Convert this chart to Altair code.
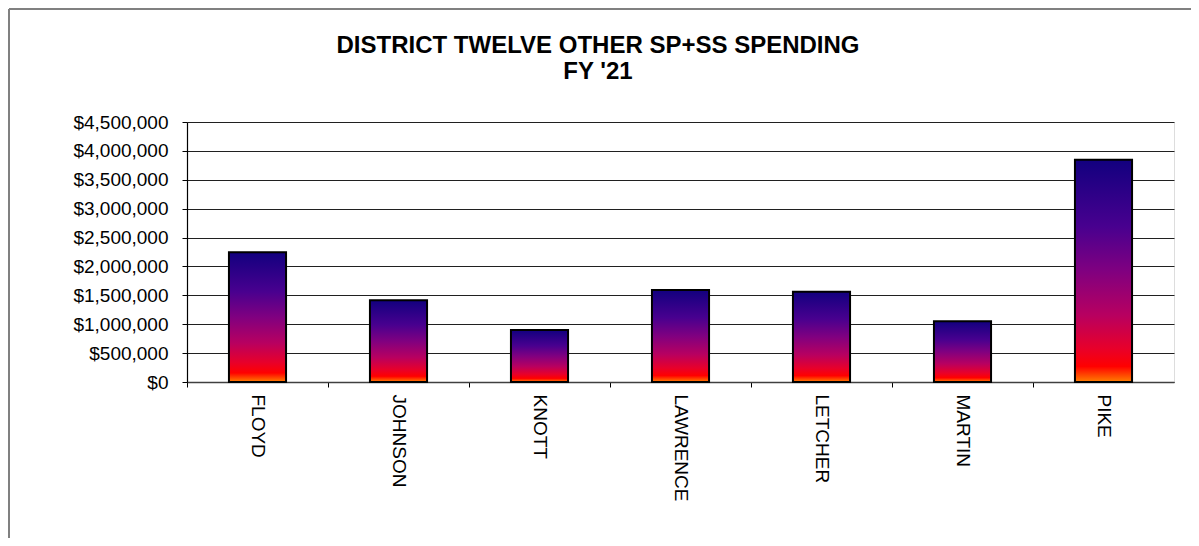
import altair as alt
import pandas as pd

counties = ["FLOYD", "JOHNSON", "KNOTT", "LAWRENCE", "LETCHER", "MARTIN", "PIKE"]
spending = [2245000, 1414000, 900000, 1592000, 1563000, 1050000, 3848000]
y_ticks = [0, 500000, 1000000, 1500000, 2000000, 2500000, 3000000, 3500000, 4000000, 4500000]
title_lines = ["DISTRICT TWELVE OTHER SP+SS SPENDING", "FY '21"]

df = pd.DataFrame({"county": counties, "spending": spending})

FONT = "Liberation Sans"

grad = alt.LinearGradient(
    gradient="linear",
    x1=0, y1=0, x2=0, y2=1,
    stops=[
        alt.GradientStop(offset=0.0, color="#12007f"),
        alt.GradientStop(offset=0.3, color="#48008f"),
        alt.GradientStop(offset=0.5, color="#800080"),
        alt.GradientStop(offset=0.7, color="#b80060"),
        alt.GradientStop(offset=0.85, color="#e8002a"),
        alt.GradientStop(offset=0.93, color="#ff0000"),
        alt.GradientStop(offset=1.0, color="#ff8000"),
    ],
)

bars = alt.Chart(df).mark_bar(
    color=grad, stroke="black", strokeWidth=2, width=alt.RelativeBandSize(0.405)
).encode(
    x=alt.X("county:N", sort=counties, title=None,
            scale=alt.Scale(paddingInner=0, paddingOuter=0),
            axis=alt.Axis(labelAngle=90, labelAlign="left", labelBaseline="middle",
                          labelFontSize=19, labelFont=FONT, labelColor="black",
                          labelPadding=7, tickSize=5, tickColor="black",
                          bandPosition=0, domainColor="#404040", domainWidth=1.5,
                          grid=False)),
    y=alt.Y("spending:Q", title=None,
            scale=alt.Scale(domain=[0, 4500000], nice=False),
            axis=alt.Axis(values=y_ticks, format="$,.0f", labelFontSize=19,
                          labelFont=FONT, labelColor="black", labelPadding=14,
                          tickSize=5, tickColor="black", domainColor="black",
                          domainWidth=1.2, grid=True, gridColor="#202020",
                          gridWidth=1)),
)

title_df = pd.DataFrame({"line": title_lines, "yy": [-76, -50]})
title = alt.Chart(title_df).mark_text(
    font=FONT, fontSize=24, fontWeight="bold", color="black",
    align="center", baseline="middle"
).encode(
    text="line:N",
    x=alt.value(411),
    y=alt.Y("yy:Q", scale=None),
)

frame_left = alt.Chart(df).mark_rule(color="#808080", strokeWidth=2).encode(
    x=alt.value(-178), y=alt.value(-113), y2=alt.value(1000)
)
frame_top = alt.Chart(df).mark_rule(color="#808080", strokeWidth=2).encode(
    x=alt.value(-178), x2=alt.value(2000), y=alt.value(-113)
)

chart = alt.layer(bars, title, frame_left, frame_top).properties(
    width=987, height=260,
    autosize=alt.AutoSizeParams(type="none"),
    padding={"left": 179, "top": 114, "right": 17, "bottom": 156},
).configure_view(stroke="#808080", strokeWidth=1.5).configure(background="white")

chart.save("out.html", embed_options={"renderer": "svg", "actions": False})
